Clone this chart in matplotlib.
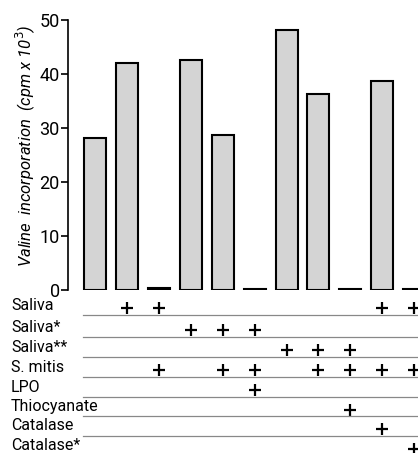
import matplotlib
matplotlib.use("Agg")
import matplotlib.pyplot as plt
import matplotlib.transforms as mtransforms

plt.rcParams["font.family"] = ["Roboto", "DejaVu Sans"]

values = [28.1, 42.0, 0.3, 42.6, 28.7, 0.2, 48.1, 36.3, 0.2, 38.7, 0.2]
row_labels = ["Saliva", "Saliva*", "Saliva**", "S. mitis", "LPO",
              "Thiocyanate", "Catalase", "Catalase*"]
# which bars (0-based) have a "+" for each row
plus_marks = {
    "Saliva": [1, 2, 9, 10],
    "Saliva*": [3, 4, 5],
    "Saliva**": [6, 7, 8],
    "S. mitis": [2, 4, 5, 7, 8, 9, 10],
    "LPO": [5],
    "Thiocyanate": [8],
    "Catalase": [9],
    "Catalase*": [10],
}
yticks = [0, 10, 20, 30, 40, 50]

W, H = 418, 453
fig = plt.figure(figsize=(W / 100, H / 100), dpi=100)
ax = fig.add_axes([68 / W, 1 - 290 / H, 1 - 68 / W, 270 / H])

x = list(range(len(values)))
ax.bar(x, values, width=0.69, color="#d4d4d4", edgecolor="black", linewidth=1.5, zorder=3)
ax.set_xlim(-0.85, 10.12)
ax.set_ylim(0, 50)
for s in ["top", "right", "bottom"]:
    ax.spines[s].set_visible(False)
ax.spines["left"].set_linewidth(1.2)
ax.set_xticks([])
ax.set_yticks(yticks)
ax.set_yticklabels([str(t) for t in yticks], fontsize=13)
ax.tick_params(axis="y", direction="out", length=5, width=1.2, pad=1)
ax.set_ylabel("Valine  incorporation  (cpm x 10$^3$)", fontsize=12, style="italic")
ax.yaxis.set_label_coords(-0.088, 0.535)

blend = mtransforms.blended_transform_factory(ax.transData, fig.transFigure)
row_y = [305, 327, 347, 367, 387, 407, 426, 446]
line_y = [315, 337, 357, 377, 397, 416, 436]
for lbl, ypx in zip(row_labels, row_y):
    fig.text(11 / W, 1 - ypx / H, lbl, fontsize=11.5, va="center", ha="left")
    xs = plus_marks[lbl]
    ax.plot(xs, [1 - (ypx + 3) / H] * len(xs), linestyle="none", marker="+",
            markersize=9, mew=1.6, color="black", transform=blend, clip_on=False)
for ypx in line_y:
    ax.plot([-0.38, 10.2], [1 - ypx / H] * 2, color="#888888", linewidth=0.9,
            transform=blend, clip_on=False)

fig.savefig("out.png", dpi=100)
